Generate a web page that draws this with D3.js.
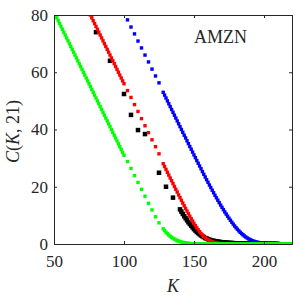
<!DOCTYPE html>
<html lang="en">
<head>
    <meta charset="UTF-8">
    <title>AMZN call prices</title>
    <script src="https://d3js.org/d3.v7.min.js"></script>
    <style>
        body { margin: 0; background: #fff; }
        svg { display: block; }
        .axis path, .axis line { stroke: #262626; }
    </style>
</head>
<body>
    <svg width="300" height="300"></svg>
    <script>
        // strike grid of the model curves
        const modelStrikes = [
            50,51,52,53,54,55,56,57,58,59,60,61,62,63,64,65,66,67,68,69,70,71,72,73,74,75,
            76,77,78,79,80,81,82,83,84,85,86,87,88,89,90,91,92,93,94,95,96,97,98,99,100,
            102.5,105,107.5,110,112.5,115,117.5,120,122.5,125,
            128,129,130,131,132,133,134,135,136,137,138,139,140,141,142,143,144,145,146,147,
            148,149,150,151,152,153,154,155,156,157,158,159,160,161,162,163,164,165,166,167,
            168,169,170,171,172,173,174,175,176,177,178,179,180,181,182,183,184,185,186,187,
            188,189,190,191,192,193,194,195,196,197,198,199,200,201,202,203,204,205,206,207,
            208,209,210,211,212,213,214,215,216,217,218,219,220
        ];
        const greenModel = [
            81,80,79,78,77,76,75,74,73,72,71,70,69,68,67,66,65,64,63,62,61,60,59,58,57,56,
            55,54,53,52,51,50,49,48,47,46,45,44,43,42,41,40,39,38,37,36,35,34,33,32,31,
            28.8,26.4,23.9,21.5,19.1,16.7,14.2,11.9,9.5,7.4,
            5.3,4.7,4.1,3.6,3.1,2.7,2.35,2.0,1.7,1.45,1.2,1.0,0.85,0.7,0.57,0.46,0.37,0.29,
            0.23,0.18,0.14,0.1,0.08,0.06,0.04,0.03,0.02,0.01,
            0,0,0,0,0, 0,0,0,0,0, 0,0,0,0,0, 0,0,0,0,0, 0,0,0,0,0, 0,0,0,0,0, 0,0,0,0,0,
            0,0,0,0,0, 0,0,0,0,0, 0,0,0,0,0, 0,0,0,0,0, 0,0,0,0,0, 0,0,0,0,0
        ];
        const redModel = [
            106,105,104,103,102,101,100,99,98,97,96,95,94,93,92,91,90,89,88,87,86,85,84,83,82,81,
            80,79,78,77,76,75,74,73,72,71,70,69,68,67,66,65,64,63,62,61,60,59,58,57,56,
            53.6,51.2,48.7,46.3,43.8,41.3,38.9,36.4,34.0,31.5,
            28.05,27.05,26.05,25.05,24.05,23.05,22.1,21.1,20.1,19.1,18.15,17.15,16.2,15.25,
            14.3,13.35,12.4,11.5,10.6,9.7,8.85,8.0,7.2,6.4,5.65,4.95,4.3,3.7,3.15,2.65,2.2,
            1.8,1.5,1.2,0.98,0.78,0.62,0.48,0.37,0.28,0.21,0.16,0.12,0.09,0.07,0.05,0.04,
            0.03,0.02,0.02,0.01,0.01,
            0,0,0,0,0, 0,0,0,0,0, 0,0,0,0,0, 0,0,0,0,0, 0,0,0,0,0, 0,0,0,0,0, 0,0,0,0,0,
            0,0,0,0,0, 0
        ];
        const blueModel = [
            131,130,129,128,127,126,125,124,123,122,121,120,119,118,117,116,115,114,113,112,
            111,110,109,108,107,106,105,104,103,102,101,100,99,98,97,96,95,94,93,92,91,90,
            89,88,87,86,85,84,83,82,81,
            78.3,75.8,73.4,70.9,68.5,66.0,63.6,61.1,58.7,56.3,
            53,52,51,50,49,48,47,46,45,44,43,42,41,40,39,38,37.05,36.05,35.05,34.05,
            33.1,32.1,31.1,30.15,29.15,28.2,27.25,26.3,25.3,24.35,23.4,22.45,21.55,20.6,
            19.7,18.8,17.9,17.0,16.15,15.3,14.45,13.6,12.8,12.0,11.2,10.45,9.7,9.0,8.3,
            7.6,6.95,6.3,5.7,5.15,4.6,4.1,3.65,3.2,2.8,2.45,2.1,1.8,1.55,1.3,1.1,0.92,
            0.77,0.64,0.53,0.43,0.35,0.28,0.23,0.18,0.14,0.11,0.09,0.07,0.05,0.04,0.03,
            0.02,0.02,0.01,0.01,
            0,0,0,0,0,0,0,0
        ];
        // market quotes (black squares)
        const marketStrikes = [
            80,90,100,105,110,115,125,130,135,140,
            141,142,143,144,145,146,147,148,149,150,151,152,153,154,155,156,157,158,159,160,
            161,162,163,164,165,166,167,168,169,170,171,172,173,174,175,176,177,178,179,180,
            181,182,183,184,185,186,187,188,189,190,191,192,193,194,195,196,197,198,199,200,
            201,202,203,204,205,206,207,208,209,210
        ];
        const marketPrices = [
            74,64,52.4,45.1,39.8,38.4,24.9,20.0,16.2,12.1,
            11.3,10.5,9.7,9.0,8.3,7.6,7.0,6.4,5.8,5.2,4.7,4.2,3.8,3.4,3.0,2.7,2.4,2.1,1.9,1.7,
            1.5,1.35,1.2,1.1,1.0,0.9,0.82,0.75,0.68,0.62,0.57,0.52,0.48,0.44,0.4,0.37,0.34,
            0.31,0.28,0.26,0.24,0.22,0.2,0.18,0.17,0.16,0.15,0.14,0.13,0.12,0.11,0.1,0.1,
            0.09,0.09,0.08,0.08,0.07,0.07,0.07,0.06,0.06,0.06,0.05,0.05,0.05,0.05,0.04,
            0.04,0.04
        ];
        const xTicks = [50, 100, 150, 200];
        const yTicks = [0, 20, 40, 60, 80];

        const serif = "'Liberation Serif', 'Times New Roman', Times, serif";
        const pl = 54, pr = 292, pt = 15, pb = 244;
        const svg = d3.select("svg");

        const x = d3.scaleLinear().domain([50, 220]).range([pl, pr]);
        const y = d3.scaleLinear().domain([0, 80]).range([pb, pt]);

        svg.append("clipPath").attr("id", "plot")
          .append("rect")
            .attr("x", pl).attr("y", pt)
            .attr("width", pr - pl).attr("height", pb - pt);

        const plot = svg.append("g").attr("clip-path", "url(#plot)");

        function squares(ks, cs, color, size) {
            plot.append("g")
                .selectAll("rect")
                .data(d3.zip(ks, cs))
                .join("rect")
                .attr("x", d => x(d[0]) - size / 2)
                .attr("y", d => y(d[1]) - size / 2)
                .attr("width", size)
                .attr("height", size)
                .attr("fill", color);
        }

        squares(marketStrikes, marketPrices, "#000000", 4.5);
        squares(modelStrikes, blueModel, "#0000ff", 3.4);
        squares(modelStrikes, redModel, "#ff0000", 3.4);
        squares(modelStrikes, greenModel, "#00ff00", 3.4);

        // box with inward ticks
        const axes = [
            svg.append("g").attr("transform", `translate(0,${pb})`)
                .call(d3.axisBottom(x).tickValues(xTicks).tickSize(-3).tickPadding(11)),
            svg.append("g").attr("transform", `translate(0,${pt})`)
                .call(d3.axisTop(x).tickValues(xTicks).tickSize(-3).tickFormat("")),
            svg.append("g").attr("transform", `translate(${pl},0)`)
                .call(d3.axisLeft(y).tickValues(yTicks).tickSize(-3).tickPadding(6)),
            svg.append("g").attr("transform", `translate(${pr},0)`)
                .call(d3.axisRight(y).tickValues(yTicks).tickSize(-3).tickFormat(""))
        ];
        axes.forEach(g => g.attr("class", "axis")
            .attr("font-family", serif)
            .attr("font-size", 17)
            .selectAll("text").attr("fill", "#262626"));

        svg.append("text")
            .attr("x", (pl + pr) / 2)
            .attr("y", 292)
            .attr("text-anchor", "middle")
            .attr("font-family", serif)
            .attr("font-size", 18)
            .attr("font-style", "italic")
            .attr("fill", "#262626")
            .text("K");

        const ylab = svg.append("text")
            .attr("transform", `translate(19,${(pt + pb) / 2 + 2}) rotate(-90)`)
            .attr("text-anchor", "middle")
            .attr("font-family", serif)
            .attr("font-size", 18)
            .attr("fill", "#262626");
        ylab.append("tspan").attr("font-style", "italic").text("C");
        ylab.append("tspan").text("(");
        ylab.append("tspan").attr("font-style", "italic").text("K");
        ylab.append("tspan").text(", 21)");

        svg.append("text")
            .attr("x", 220.5)
            .attr("y", 43)
            .attr("text-anchor", "middle")
            .attr("font-family", serif)
            .attr("font-size", 18)
            .attr("fill", "#262626")
            .text("AMZN");
    </script>
</body>
</html>
